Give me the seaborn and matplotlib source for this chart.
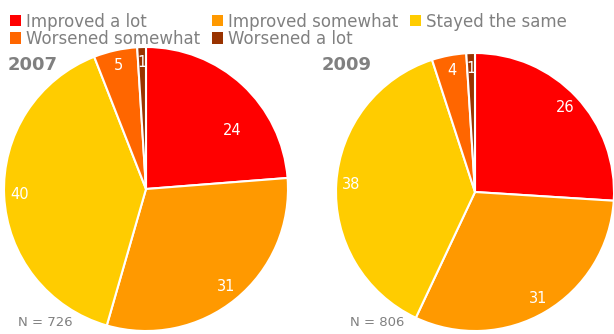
import matplotlib
matplotlib.use("Agg")
import matplotlib.pyplot as plt
import seaborn as sns
from matplotlib.patches import Patch

# categories and values
categories = ["Improved a lot", "Improved somewhat", "Stayed the same",
              "Worsened somewhat", "Worsened a lot"]
values_2007 = [24, 31, 40, 5, 1]
values_2009 = [26, 31, 38, 4, 1]
years = ["2007", "2009"]
sample_sizes = ["N = 726", "N = 806"]

sns.set_theme(style="white")
plt.rcParams["font.family"] = ["DejaVu Sans"]
colors = sns.color_palette(["#FF0000", "#FF9900", "#FFCC00", "#FF6600", "#993300"])
grey = "#808080"

W, H = 614, 334
fig = plt.figure(figsize=(W / 100, H / 100), dpi=100)


def px_axes(cx, cy, r):
    # axes box (in figure fractions) from a pixel centre and radius
    return fig.add_axes([(cx - r) / W, (H - cy - r) / H, 2 * r / W, 2 * r / H])


pies = [
    (values_2007, px_axes(146, 189, 142)),
    (values_2009, px_axes(475, 192, 139)),
]

for k, (vals, ax) in enumerate(pies):
    wedges, texts = ax.pie(
        vals, colors=colors, startangle=90, counterclock=False,
        labels=[str(v) for v in vals], labeldistance=0.89,
        wedgeprops=dict(edgecolor="white", linewidth=1.5),
        textprops=dict(color="white", fontsize=10.5, ha="center", va="center"),
    )
    if k == 0:
        # the "24" label sits lower inside its slice in the original
        texts[0].set_position((0.61, 0.41))
    ax.set_xlim(-1, 1)
    ax.set_ylim(-1, 1)
    ax.set_aspect("equal")
    ax.axis("off")

# year titles and sample sizes
fig.text(8 / W, 1 - 65 / H, years[0], color=grey, fontsize=13, fontweight="bold", va="center")
fig.text(322 / W, 1 - 65 / H, years[1], color=grey, fontsize=13, fontweight="bold", va="center")
fig.text(18 / W, 1 - 323 / H, sample_sizes[0], color=grey, fontsize=9.5, va="center")
fig.text(350 / W, 1 - 323 / H, sample_sizes[1], color=grey, fontsize=9.5, va="center")

# legend, row-major over three columns
handles = [Patch(facecolor=c, edgecolor="none") for c in colors]
order = [0, 3, 1, 4, 2]
leg = fig.legend(
    [handles[i] for i in order], [categories[i] for i in order],
    ncol=3, loc="upper left", bbox_to_anchor=(0.0, 0.992),
    frameon=False, fontsize=12, handlelength=0.66, handleheight=0.66,
    handletextpad=0.3, columnspacing=0.7, labelspacing=-0.05,
    borderaxespad=0.2,
)
for t in leg.get_texts():
    t.set_color(grey)

fig.savefig("out.png", dpi=100)
